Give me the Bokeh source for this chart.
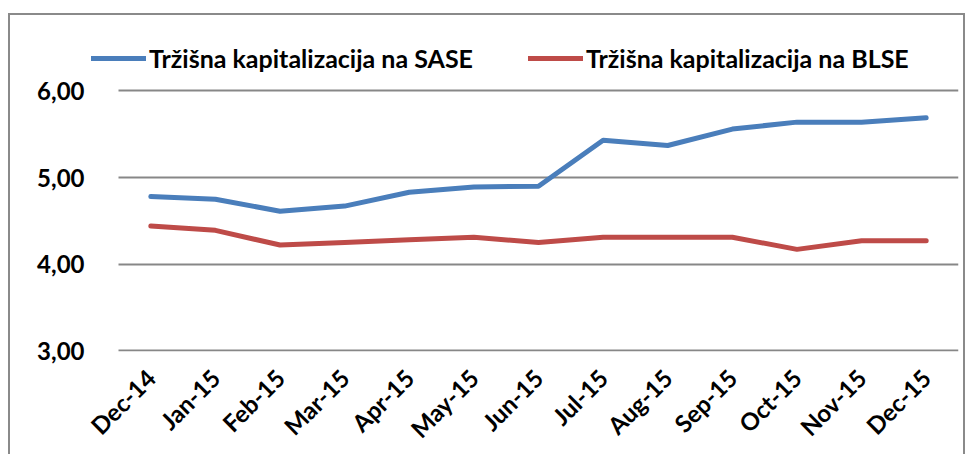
import math
from bokeh.plotting import figure
from bokeh.models import Legend, LegendItem, FixedTicker, CustomJSTickFormatter
from bokeh.embed import file_html
from bokeh.resources import INLINE

months = ["Dec-14", "Jan-15", "Feb-15", "Mar-15", "Apr-15", "May-15", "Jun-15",
          "Jul-15", "Aug-15", "Sep-15", "Oct-15", "Nov-15", "Dec-15"]
sase = [4.78, 4.75, 4.61, 4.67, 4.83, 4.89, 4.90, 5.43, 5.37, 5.56, 5.64, 5.64, 5.69]
blse = [4.44, 4.39, 4.22, 4.25, 4.28, 4.31, 4.25, 4.31, 4.31, 4.31, 4.17, 4.27, 4.27]
y_ticks = [3, 4, 5, 6]
series_names = ["Tržišna kapitalizacija na SASE", "Tržišna kapitalizacija na BLSE"]

BLUE = "#4A7EBB"
RED = "#BE4B48"
GRID = "#878787"
EDGE = "2px solid #8a8a8a"
FONT = "Lato"

xs = list(range(len(months)))
lead_px = 27                                   # legend room left of the first slot
cat_px = (867 - lead_px) / len(months)         # pixel width of one category slot
x_start = -0.5 - lead_px / cat_px

p = figure(width=957, height=441, x_range=(x_start, len(months) - 0.5),
           y_range=(2.99, 6.537), output_backend="svg", toolbar_location=None,
           min_border_left=81, min_border_right=9, min_border_top=29,
           min_border_bottom=103)
p.margin = (13, 0, 0, 8)
p.styles = {"border-left": EDGE, "border-top": EDGE, "border-right": EDGE}
p.outline_line_color = None
p.background_fill_color = "white"
p.border_fill_color = "white"

r1 = p.line(xs, sase, line_color=BLUE, line_width=5, line_join="round", line_cap="round")
r2 = p.line(xs, blse, line_color=RED, line_width=5, line_join="round", line_cap="round")

p.xgrid.grid_line_color = None
p.ygrid.grid_line_color = GRID
p.ygrid.grid_line_width = 2
p.ygrid.cross_bounds = (-0.5, len(months) - 0.5)

p.yaxis.ticker = FixedTicker(ticks=y_ticks)
p.yaxis.formatter = CustomJSTickFormatter(code="return tick.toFixed(2).replace('.', ',');")
p.yaxis.axis_line_color = None
p.yaxis.major_tick_line_color = None
p.yaxis.minor_tick_line_color = None
p.yaxis.major_label_standoff = 1
p.yaxis.major_label_text_font = FONT
p.yaxis.major_label_text_font_style = "bold"
p.yaxis.major_label_text_font_size = "24px"
p.yaxis.major_label_text_color = "black"

p.xaxis.ticker = FixedTicker(ticks=xs)
p.xaxis.major_label_overrides = {i: m for i, m in enumerate(months)}
p.xaxis.axis_line_color = None
p.xaxis.major_tick_line_color = None
p.xaxis.minor_tick_line_color = None
p.xaxis.major_label_orientation = math.pi / 4
p.xaxis.major_label_standoff = 16
p.xaxis.major_label_text_font = FONT
p.xaxis.major_label_text_font_style = "bold"
p.xaxis.major_label_text_font_size = "24px"
p.xaxis.major_label_text_color = "black"

legend = Legend(items=[LegendItem(label=series_names[0], renderers=[r1]),
                       LegendItem(label=series_names[1], renderers=[r2])],
                orientation="horizontal", location=(0, 278),
                glyph_width=55, glyph_height=26, label_height=26, label_standoff=3,
                spacing=55, padding=0, margin=0, border_line_color=None,
                background_fill_alpha=0, label_text_font=FONT,
                label_text_font_style="bold", label_text_font_size="25px",
                label_text_color="black")
p.add_layout(legend, "center")

open("out.html", "w").write(file_html(p, INLINE))
